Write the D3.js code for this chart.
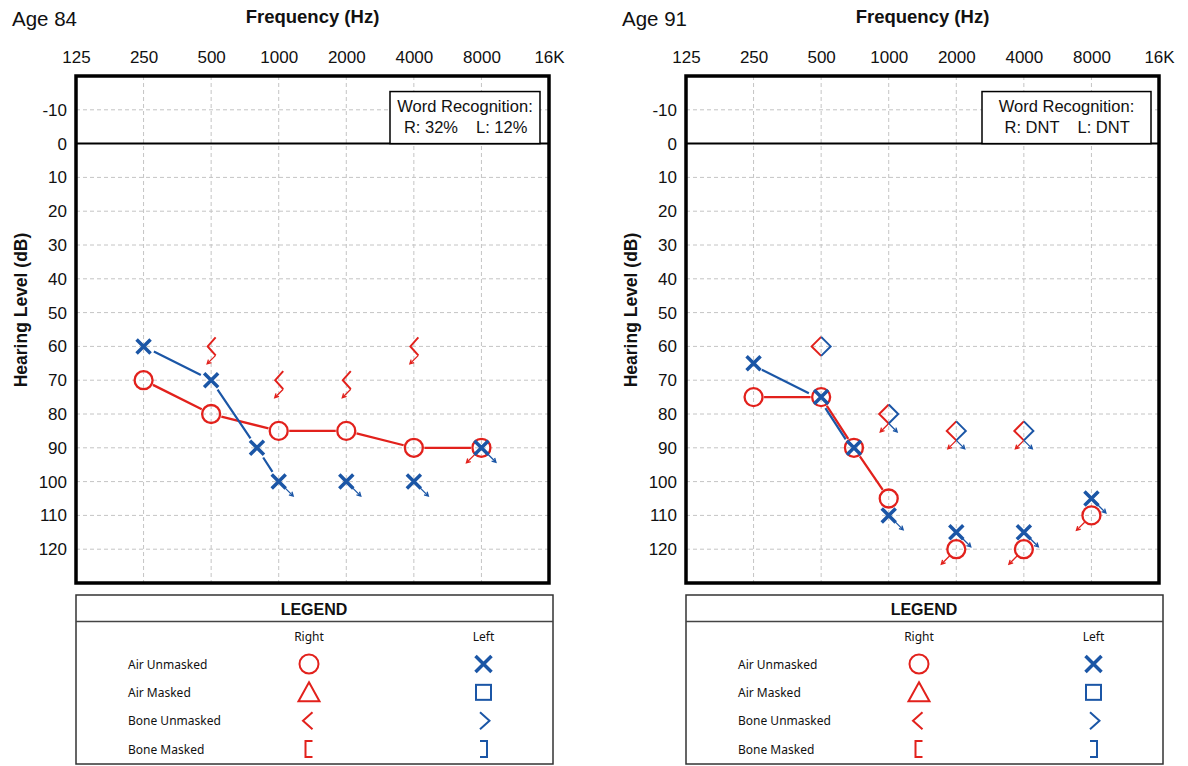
<!DOCTYPE html>
<html>
<head>
<meta charset="utf-8">
<script src="https://cdn.jsdelivr.net/npm/d3@7"></script>
<style>
body { margin: 0; background: #fff; }
svg text { font-family: "Liberation Sans", Arial, sans-serif; fill: #111; }
.legend text.lab { font-family: "Noto Sans", sans-serif; font-size: 12px; }
</style>
</head>
<body>
<script>
var freqTicks = [125, 250, 500, 1000, 2000, 4000, 8000, 16000];
var freqLabels = ["125", "250", "500", "1000", "2000", "4000", "8000", "16K"];
var dbTicks = [-10, 0, 10, 20, 30, 40, 50, 60, 70, 80, 90, 100, 110, 120];

// points: [frequency Hz, hearing level dB, no response flag]
var age84RightAir = [[250, 70], [500, 80], [1000, 85], [2000, 85], [4000, 90], [8000, 90, 1]];
var age84LeftAir = [[250, 60], [500, 70], [800, 90], [1000, 100, 1], [2000, 100, 1], [4000, 100, 1], [8000, 90, 1]];
var age84RightBone = [[500, 60, 1], [1000, 70, 1], [2000, 70, 1], [4000, 60, 1]];
var age84LeftBone = [];
var age84Joined = [6, 4];            // how many air points are joined (right, left)
var age84Words = ["R: 32%", "L: 12%"];

var age91RightAir = [[250, 75], [500, 75], [700, 90], [1000, 105], [2000, 120, 1], [4000, 120, 1], [8000, 110, 1]];
var age91LeftAir = [[250, 65], [500, 75], [700, 90], [1000, 110, 1], [2000, 115, 1], [4000, 115, 1], [8000, 105, 1]];
var age91RightBone = [[500, 60], [1000, 80, 1], [2000, 85, 1], [4000, 85, 1]];
var age91LeftBone = [[500, 60], [1000, 80, 1], [2000, 85, 1], [4000, 85, 1]];
var age91Joined = [4, 3];
var age91Words = ["R: DNT", "L: DNT"];

var legendRows = ["Air Unmasked", "Air Masked", "Bone Unmasked", "Bone Masked"];
var legendCols = ["Right", "Left"];

var RED = "#e2211c", BLUE = "#1b56a6";
var W = 473, H = 507;

var svg = d3.select("body").append("svg")
    .attr("width", 1188)
    .attr("height", 766);

function arrowPath(x1, y1, x2, y2) {
  var a = Math.atan2(y2 - y1, x2 - x1), L = 4.5, s = 0.5;
  return "M" + x1 + "," + y1 + "L" + x2 + "," + y2 +
    "M" + (x2 - L * Math.cos(a - s)) + "," + (y2 - L * Math.sin(a - s)) +
    "L" + x2 + "," + y2 +
    "L" + (x2 - L * Math.cos(a + s)) + "," + (y2 - L * Math.sin(a + s));
}

function joinPath(pts, x, y, cut) {
  var d = "";
  for (var i = 0; i < pts.length - 1; i++) {
    var x1 = x(pts[i][0]), y1 = y(pts[i][1]), x2 = x(pts[i + 1][0]), y2 = y(pts[i + 1][1]);
    var len = Math.hypot(x2 - x1, y2 - y1), ux = (x2 - x1) / len, uy = (y2 - y1) / len;
    d += "M" + (x1 + ux * cut) + "," + (y1 + uy * cut) + "L" + (x2 - ux * cut) + "," + (y2 - uy * cut);
  }
  return d;
}

function audiogram(ox, title, rAir, lAir, rBone, lBone, joined, words, opt) {
  var x = d3.scaleLog().base(2).domain([125, 16000]).range([0, W]);
  var y = d3.scaleLinear().domain([-20, 130]).range([0, H]);

  svg.append("text")
      .attr("x", ox - 64).attr("y", 26)
      .style("font-size", "20.5px")
      .text(title);

  svg.append("text")
      .attr("x", ox + W / 2).attr("y", 23)
      .attr("text-anchor", "middle")
      .style("font-size", "18.5px").style("font-weight", "bold")
      .text("Frequency (Hz)");

  svg.append("text")
      .attr("transform", "translate(" + (ox - 55) + ",310) rotate(-90)")
      .attr("text-anchor", "middle")
      .attr("dy", "0.35em")
      .style("font-size", "17.5px").style("font-weight", "bold")
      .text("Hearing Level (dB)");

  var g = svg.append("g").attr("transform", "translate(" + ox + ",76)");

  // grid
  g.selectAll(".vg").data(freqTicks.slice(1, -1)).enter().append("line")
      .attr("x1", x).attr("x2", x).attr("y1", 0).attr("y2", H)
      .attr("stroke", "#c4c4c4").attr("stroke-dasharray", "4,3");
  g.selectAll(".hg").data(dbTicks.filter(function(d) { return d !== 0; })).enter().append("line")
      .attr("x1", 0).attr("x2", W).attr("y1", y).attr("y2", y)
      .attr("stroke", "#c4c4c4").attr("stroke-dasharray", "4,3");
  g.append("line")
      .attr("x1", 0).attr("x2", W).attr("y1", y(0)).attr("y2", y(0))
      .attr("stroke", "#000").attr("stroke-width", 2);

  // axes
  var top = g.append("g").call(d3.axisTop(x).tickValues(freqTicks)
      .tickFormat(function(d, i) { return freqLabels[i]; }).tickSize(0).tickPadding(13));
  var left = g.append("g").call(d3.axisLeft(y).tickValues(dbTicks)
      .tickFormat(function(d) { return String(d); }).tickSize(0).tickPadding(9));
  [top, left].forEach(function(a) {
    a.select(".domain").remove();
    a.attr("font-family", null).attr("font-size", null);
    a.selectAll("text").style("font-size", "17px").attr("fill", "#111");
  });

  // word recognition box
  var bx = opt.boxX, bw = opt.boxW, cx = bx + bw / 2;
  g.append("rect")
      .attr("x", bx).attr("y", y(-15.4)).attr("width", bw).attr("height", y(0) - y(-15.4))
      .attr("fill", "#fff").attr("stroke", "#000").attr("stroke-width", 1.5);
  g.append("text").attr("x", cx).attr("y", y(-10) + 2)
      .attr("text-anchor", "middle").style("font-size", "16.5px")
      .text("Word Recognition:");
  g.append("text").attr("x", cx - 7).attr("y", y(-10) + 23)
      .attr("text-anchor", "end").style("font-size", "16.5px").text(words[0]);
  g.append("text").attr("x", cx + 11).attr("y", y(-10) + 23)
      .style("font-size", "16.5px").text(words[1]);

  // joined air lines
  g.append("path")
      .attr("d", joinPath(rAir.slice(0, joined[0]), x, y, 10.5))
      .attr("fill", "none").attr("stroke", RED).attr("stroke-width", 2.3);
  g.append("path")
      .attr("d", joinPath(lAir.slice(0, joined[1]), x, y, 11.5))
      .attr("transform", "translate(" + opt.blueShift + ")")
      .attr("fill", "none").attr("stroke", BLUE).attr("stroke-width", 2.2);

  // bone conduction
  var bw2 = opt.boneW, bh = opt.boneH, bdx = opt.boneDx;
  rBone.forEach(function(p) {
    var ex = x(p[0]) + bdx, cy = y(p[1]);
    g.append("path")
        .attr("d", "M" + ex + "," + (cy - bh) + "L" + (ex - bw2) + "," + cy + "L" + ex + "," + (cy + bh))
        .attr("fill", "none").attr("stroke", RED).attr("stroke-width", 2);
    if (p[2]) g.append("path")
        .attr("d", arrowPath(ex, cy + bh, ex - 8.5, cy + bh + 8.5))
        .attr("fill", "none").attr("stroke", RED).attr("stroke-width", 1.3);
  });
  lBone.forEach(function(p) {
    var ex = x(p[0]) - bdx, cy = y(p[1]);
    g.append("path")
        .attr("d", "M" + ex + "," + (cy - bh) + "L" + (ex + bw2) + "," + cy + "L" + ex + "," + (cy + bh))
        .attr("fill", "none").attr("stroke", BLUE).attr("stroke-width", 2);
    if (p[2]) g.append("path")
        .attr("d", arrowPath(ex, cy + bh, ex + 8.5, cy + bh + 8.5))
        .attr("fill", "none").attr("stroke", BLUE).attr("stroke-width", 1.3);
  });

  // right ear air: circles
  rAir.forEach(function(p) {
    var px = x(p[0]), py = y(p[1]);
    g.append("circle").attr("cx", px).attr("cy", py).attr("r", 9)
        .attr("fill", "none").attr("stroke", RED).attr("stroke-width", 2.3);
    if (p[2]) g.append("path")
        .attr("d", arrowPath(px - 6.8, py + 6.8, px - 15, py + 15))
        .attr("fill", "none").attr("stroke", RED).attr("stroke-width", 1.3);
  });

  // left ear air: crosses
  lAir.forEach(function(p) {
    var px = x(p[0]), py = y(p[1]);
    g.append("path")
        .attr("d", "M" + (px - 7) + "," + (py - 7) + "L" + (px + 7) + "," + (py + 7) +
                   "M" + (px + 7) + "," + (py - 7) + "L" + (px - 7) + "," + (py + 7))
        .attr("stroke", BLUE).attr("stroke-width", 3.5);
    if (p[2]) g.append("path")
        .attr("d", arrowPath(px + 6.5, py + 6.5, px + 14.5, py + 14.5))
        .attr("fill", "none").attr("stroke", BLUE).attr("stroke-width", 1.3);
  });

  g.append("rect")
      .attr("width", W).attr("height", H)
      .attr("fill", "none").attr("stroke", "#000").attr("stroke-width", 3.5);
}

function legend(ox) {
  var g = svg.append("g").attr("class", "legend").attr("transform", "translate(" + ox + ",0)");
  g.append("rect").attr("x", 0).attr("y", 595).attr("width", 477).attr("height", 169)
      .attr("fill", "none").attr("stroke", "#333").attr("stroke-width", 1.5);
  g.append("line").attr("x1", 0).attr("x2", 477).attr("y1", 621.5).attr("y2", 621.5)
      .attr("stroke", "#444").attr("stroke-width", 1.3);
  g.append("text").attr("x", 238).attr("y", 615).attr("text-anchor", "middle")
      .style("font-size", "16px").style("font-weight", "bold").text("LEGEND");

  var colX = [233, 407.5];
  g.selectAll(".col").data(legendCols).enter().append("text")
      .attr("class", "lab")
      .attr("x", function(d, i) { return colX[i]; }).attr("y", 641)
      .attr("text-anchor", "middle").text(function(d) { return d; });

  var rowY = d3.scalePoint().domain(legendRows).range([664, 749]);
  g.selectAll(".row").data(legendRows).enter().append("text")
      .attr("class", "lab")
      .attr("x", 52).attr("y", function(d) { return rowY(d) + 4.5; })
      .text(function(d) { return d; });

  var rx = colX[0], lx = colX[1];
  var r = function(d) { return rowY(legendRows[d]); };
  var sym = g.append("g").attr("fill", "none").attr("stroke-width", 2);
  sym.append("circle").attr("cx", rx).attr("cy", r(0)).attr("r", 9.5).attr("stroke", RED);
  sym.append("path").attr("stroke", RED)
      .attr("d", "M" + rx + "," + (r(1) - 10) + "L" + (rx + 10.5) + "," + (r(1) + 9) + "L" + (rx - 10.5) + "," + (r(1) + 9) + "Z");
  sym.append("path").attr("stroke", RED)
      .attr("d", "M" + (rx + 3.5) + "," + (r(2) - 8.5) + "L" + (rx - 6) + "," + r(2) + "L" + (rx + 3.5) + "," + (r(2) + 8.5));
  sym.append("path").attr("stroke", RED)
      .attr("d", "M" + (rx + 3.5) + "," + (r(3) - 8) + "L" + (rx - 3.5) + "," + (r(3) - 8) + "L" + (rx - 3.5) + "," + (r(3) + 8) + "L" + (rx + 3.5) + "," + (r(3) + 8));
  sym.append("path").attr("stroke", BLUE).attr("stroke-width", 3.5)
      .attr("d", "M" + (lx - 8) + "," + (r(0) - 8) + "L" + (lx + 8) + "," + (r(0) + 8) + "M" + (lx + 8) + "," + (r(0) - 8) + "L" + (lx - 8) + "," + (r(0) + 8));
  sym.append("rect").attr("stroke", BLUE)
      .attr("x", lx - 7.5).attr("y", r(1) - 7.5).attr("width", 15).attr("height", 15);
  sym.append("path").attr("stroke", BLUE)
      .attr("d", "M" + (lx - 3.5) + "," + (r(2) - 8.5) + "L" + (lx + 6) + "," + r(2) + "L" + (lx - 3.5) + "," + (r(2) + 8.5));
  sym.append("path").attr("stroke", BLUE)
      .attr("d", "M" + (lx - 3.5) + "," + (r(3) - 8) + "L" + (lx + 3.5) + "," + (r(3) - 8) + "L" + (lx + 3.5) + "," + (r(3) + 8) + "L" + (lx - 3.5) + "," + (r(3) + 8));
}

audiogram(76, "Age 84", age84RightAir, age84LeftAir, age84RightBone, age84LeftBone, age84Joined, age84Words,
  { boxX: 314, boxW: 150, boneW: 8, boneH: 9, boneDx: 4.5, blueShift: "0,0" });
audiogram(686, "Age 91", age91RightAir, age91LeftAir, age91RightBone, age91LeftBone, age91Joined, age91Words,
  { boxX: 296, boxW: 169, boneW: 9.5, boneH: 9.5, boneDx: 0, blueShift: "-2,1.3" });
legend(76);
legend(686);
</script>
</body>
</html>
